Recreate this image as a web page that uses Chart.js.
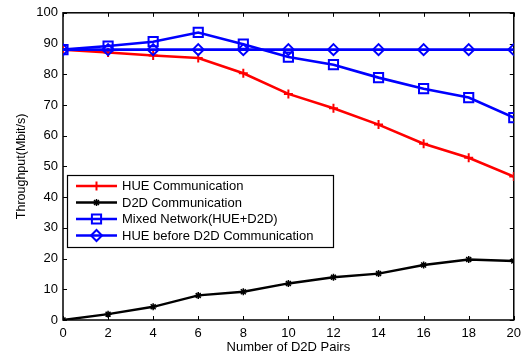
<!DOCTYPE html>
<html><head><meta charset="utf-8">
<script src="https://cdn.jsdelivr.net/npm/chart.js@4/dist/chart.umd.min.js"></script>
<style>html,body{margin:0;padding:0;background:#fff}#wrap{width:527px;height:358px;position:relative}</style>
</head><body><div id="wrap"><canvas id="c"></canvas></div>
<script>
// Number of D2D pairs on the x axis
const pairs = [0, 2, 4, 6, 8, 10, 12, 14, 16, 18, 20];
// Throughput in Mbit/s for each scheme
const hueComm   = [88, 87.1, 86.1, 85.3, 80.3, 73.6, 68.9, 63.6, 57.4, 52.8, 46.7];
const d2dComm   = [0, 1.9, 4.3, 8.0, 9.2, 11.9, 13.9, 15.1, 17.9, 19.7, 19.2];
const mixedNet  = [88, 89.2, 90.6, 93.6, 89.8, 85.6, 83.1, 78.9, 75.3, 72.4, 65.9];
const hueBefore = [88, 88, 88, 88, 88, 88, 88, 88, 88, 88, 88];
const seriesNames = ['HUE Communication', 'D2D Communication', 'Mixed Network(HUE+D2D)', 'HUE before D2D Communication'];
const xTicks = [0, 2, 4, 6, 8, 10, 12, 14, 16, 18, 20];
const yTicks = [0, 10, 20, 30, 40, 50, 60, 70, 80, 90, 100];

const FONT = '"Liberation Sans", Arial, sans-serif';
const RED = 'rgb(255,0,0)', BLUE = 'rgb(0,0,255)', BLACK = '#000';
const NONE = 'rgba(0,0,0,0)';

function pts(ys) { return pairs.map((x, i) => ({ x, y: ys[i] })); }

const datasets = [
  { label: seriesNames[0], data: pts(hueComm), borderColor: RED, backgroundColor: RED,
    borderWidth: 2.6, pointStyle: 'cross', pointRadius: 4.5, pointBorderWidth: 2, order: 2 },
  { label: seriesNames[1], data: pts(d2dComm), borderColor: BLACK, backgroundColor: BLACK,
    borderWidth: 2.4, pointStyle: 'star', pointRadius: 3.5, pointBorderWidth: 1.5, order: 3 },
  { label: seriesNames[2], data: pts(mixedNet), borderColor: BLUE, backgroundColor: NONE,
    borderWidth: 2.6, pointStyle: 'rect', pointRadius: 6.5, pointBorderWidth: 2, order: 1 },
  { label: seriesNames[3], data: pts(hueBefore), borderColor: BLUE, backgroundColor: NONE,
    borderWidth: 2.6, pointStyle: 'rectRot', pointRadius: 5.5, pointBorderWidth: 2, order: 0 }
];

// Box around the plot area with short inward tick marks on all four sides
const framePlugin = {
  id: 'frame',
  beforeDatasetsDraw(chart) {
    const { ctx, chartArea: a, scales } = chart;
    ctx.save();
    ctx.strokeStyle = '#000';
    ctx.lineWidth = 1;
    const L = 4;
    ctx.beginPath();
    xTicks.forEach(v => {
      const px = Math.round(scales.x.getPixelForValue(v)) + 0.5;
      ctx.moveTo(px, a.bottom); ctx.lineTo(px, a.bottom - L);
      ctx.moveTo(px, a.top); ctx.lineTo(px, a.top + L);
    });
    yTicks.forEach(v => {
      const py = Math.round(scales.y.getPixelForValue(v)) + 0.5;
      ctx.moveTo(a.left, py); ctx.lineTo(a.left + L, py);
      ctx.moveTo(a.right, py); ctx.lineTo(a.right - L, py);
    });
    ctx.stroke();
    ctx.lineWidth = 1.5;
    ctx.strokeRect(a.left, a.top, a.right - a.left, a.bottom - a.top);
    ctx.restore();
  }
};

// Boxed legend drawn inside the plot area, lower left
const boxLegendPlugin = {
  id: 'boxLegend',
  afterDraw(chart) {
    const { ctx, chartArea: a } = chart;
    const x0 = a.left + 4, y0 = 175, w = 266, h = 72, rowH = 16.5;
    ctx.save();
    ctx.fillStyle = '#fff';
    ctx.fillRect(x0, y0, w, h);
    ctx.strokeStyle = '#000';
    ctx.lineWidth = 1.2;
    ctx.strokeRect(x0 + 0.5, y0 + 0.5, w, h);
    ctx.font = '13px ' + FONT;
    ctx.textBaseline = 'middle';
    chart.data.datasets.forEach((ds, i) => {
      const cy = y0 + 11 + i * rowH;
      const lx0 = x0 + 9, lx1 = x0 + 50, mx = (lx0 + lx1) / 2;
      ctx.strokeStyle = ds.borderColor;
      ctx.lineWidth = ds.borderWidth;
      ctx.beginPath(); ctx.moveTo(lx0, cy); ctx.lineTo(lx1, cy); ctx.stroke();
      ctx.lineWidth = ds.pointBorderWidth;
      ctx.fillStyle = ds.backgroundColor;
      Chart.helpers.drawPoint(ctx, { pointStyle: ds.pointStyle, radius: ds.pointRadius, borderWidth: ds.pointBorderWidth, rotation: 0 }, mx, cy);
      ctx.fillStyle = '#000';
      ctx.fillText(ds.label, x0 + 55, cy + 0.5);
    });
    ctx.restore();
  }
};

new Chart(document.getElementById('c'), {
  type: 'line',
  data: { datasets },
  options: {
    responsive: true,
    maintainAspectRatio: false,
    animation: false,
    layout: { padding: { top: 8, right: 10, left: 14, bottom: 0 } },
    plugins: { legend: { display: false }, tooltip: { enabled: false } },
    elements: { line: { tension: 0 } },
    scales: {
      x: {
        type: 'linear', min: 0, max: 20,
        afterBuildTicks(s) { s.ticks = xTicks.map(v => ({ value: v })); },
        afterFit(s) { s.height = 38; },
        grid: { display: false, drawTicks: false },
        border: { display: false },
        ticks: { color: '#000', font: { family: FONT, size: 13 }, padding: 6, maxRotation: 0 },
        title: { display: true, text: 'Number of D2D Pairs', color: '#000', font: { family: FONT, size: 13 }, padding: { top: 0, bottom: 3 } }
      },
      y: {
        min: 0, max: 100,
        afterBuildTicks(s) { s.ticks = yTicks.map(v => ({ value: v })); },
        afterFit(s) { s.width = 49; },
        grid: { display: false, drawTicks: false },
        border: { display: false },
        ticks: { color: '#000', font: { family: FONT, size: 13 }, padding: 5 },
        title: { display: true, text: 'Throughput(Mbit/s)', color: '#000', font: { family: FONT, size: 12.5 }, padding: { top: 0, bottom: 0 } }
      }
    }
  },
  plugins: [framePlugin, boxLegendPlugin]
});
</script>
</body></html>
